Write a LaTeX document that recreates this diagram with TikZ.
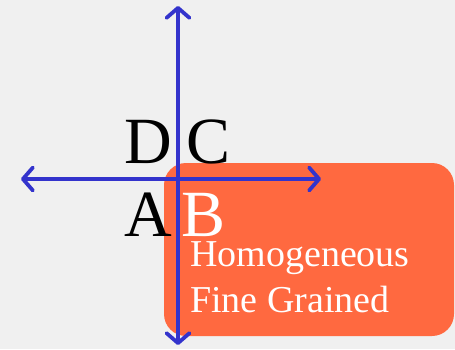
\documentclass[tikz,border=0pt]{standalone}
\usepackage{fontspec}
\setmainfont{Liberation Serif}
\usetikzlibrary{arrows.meta}
\definecolor{bg}{RGB}{240,240,240}
\definecolor{boxorange}{RGB}{255,105,64}
\definecolor{axisblue}{RGB}{51,51,204}
\begin{document}
\begin{tikzpicture}[x=1pt,y=-1pt,
  axis/.style={draw=axisblue,line width=3.8pt,{Straight Barb[length=10pt,width=23pt,line width=3.8pt,round]}-{Straight Barb[length=10pt,width=23pt,line width=3.8pt,round]}},
  big/.style={inner sep=0pt,anchor=base west,font=\fontsize{66}{66}\selectfont},
  lbl/.style={inner sep=0pt,anchor=base west,text=white,font=\fontsize{38}{38}\selectfont}]
\fill[bg] (0,0) rectangle (455,349);
\useasboundingbox (0,0) rectangle (455,349);
\fill[boxorange,rounded corners=22pt] (164,163) rectangle (454,336);
\coordinate (top) at (178,6);
\coordinate (bot) at (178,345);
\coordinate (left) at (21,179);
\coordinate (right) at (321,179);
\draw[axis] (bot) -- (top);
\draw[axis] (left) -- (right);
\node[big] (D) at (124,163) {D};
\node[big] (C) at (186,163) {C};
\node[big] (A) at (124,236) {A};
\node[big,text=white] (B) at (181,236) {B};
\node[lbl] (h1) at (190,266) {Homogeneous};
\node[lbl] (h2) at (190,312) {Fine Grained};
\end{tikzpicture}
\end{document}
